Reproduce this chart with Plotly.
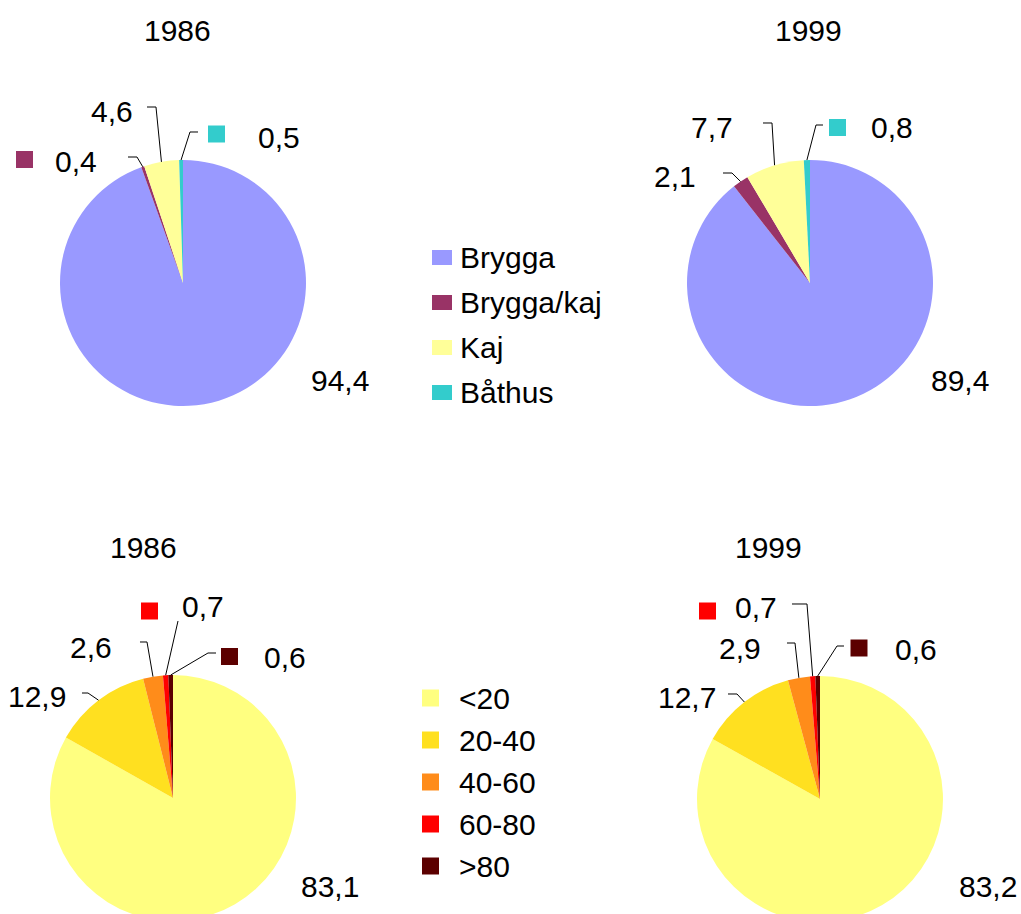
import math
import plotly.graph_objects as go

# ---------------- data ----------------
type_labels = ["Brygga", "Brygga/kaj", "Kaj", "Båthus"]
type_1986 = [94.4, 0.4, 4.6, 0.5]
type_1999 = [89.4, 2.1, 7.7, 0.8]

age_labels = ["<20", "20-40", "40-60", "60-80", ">80"]
age_1986 = [83.1, 12.9, 2.6, 0.7, 0.6]
age_1999 = [83.2, 12.7, 2.9, 0.7, 0.6]

years = ["1986", "1999"]

# ---------------- style ----------------
type_colors = ["#9999FF", "#993366", "#FFFF99", "#33CCCC"]
age_colors = ["#FFFF80", "#FFE020", "#FF8C1A", "#FF0000", "#5C0000"]

W, H = 1021, 925
FONT = dict(family="Liberation Sans, Arial, sans-serif", size=30, color="#000000")


def px(x):
    return x / W


def py(y):
    return 1 - y / H


# label placement (pixels): text centre, optional key square centre, leader elbow points
panels = [
    dict(labels=type_labels, values=type_1986, colors=type_colors, title=years[0],
         cx=183, cy=283, r=123, tpos=(177, 30),
         place=[
             dict(text=(340, 380)),
             dict(text=(76, 161), key=(24.5, 159.5), lead=[(128, 157), (137, 157)]),
             dict(text=(112, 112), lead=[(147, 107), (156, 107)]),
             dict(text=(279, 137), key=(216.5, 134), lead=[(198, 132), (190, 132)]),
         ]),
    dict(labels=type_labels, values=type_1999, colors=type_colors, title=years[1],
         cx=810, cy=283, r=123, tpos=(808, 30),
         place=[
             dict(text=(960, 380)),
             dict(text=(675, 176), lead=[(723, 173), (732, 173)]),
             dict(text=(712, 127), lead=[(763, 123), (772, 123)]),
             dict(text=(892, 127), key=(837.5, 127.5), lead=[(823, 125), (816, 125)]),
         ]),
    dict(labels=age_labels, values=age_1986, colors=age_colors, title=years[0],
         cx=173, cy=798, r=123, tpos=(143, 547),
         place=[
             dict(text=(330, 886)),
             dict(text=(37, 696), lead=[(82, 693), (88, 693)]),
             dict(text=(91, 647), lead=[(140, 642), (147, 642)]),
             dict(text=(203, 606), key=(149.5, 611), lead=[(178, 621)]),
             dict(text=(285, 657), key=(229.5, 656.5), lead=[(216, 653), (208, 653)]),
         ]),
    dict(labels=age_labels, values=age_1999, colors=age_colors, title=years[1],
         cx=820, cy=799, r=123, tpos=(768, 547),
         place=[
             dict(text=(988, 886)),
             dict(text=(687, 697), lead=[(728, 694), (737, 694)]),
             dict(text=(740, 648), lead=[(787, 643), (795, 643)]),
             dict(text=(756, 607), key=(707.5, 611), lead=[(792, 604), (807, 604)]),
             dict(text=(916, 649), key=(859, 648), lead=[(844, 646), (837, 646)]),
         ]),
]

legends = [
    dict(labels=type_labels, colors=type_colors, keyx=442, keyw=20, keyh=15,
         textx=458, rows=[257.5, 302.5, 347.5, 392.5]),
    dict(labels=age_labels, colors=age_colors, keyx=430.5, keyw=17, keyh=17,
         textx=457, rows=[698, 740, 782, 824, 866]),
]

fig = go.Figure()
annotations = []
shapes = []


def rect(cx, cy, w, h, color):
    return dict(type="rect", xref="paper", yref="paper",
                x0=px(cx - w / 2), x1=px(cx + w / 2),
                y0=py(cy + h / 2), y1=py(cy - h / 2),
                fillcolor=color, line=dict(width=0))


for p in panels:
    cx, cy, r = p["cx"], p["cy"], p["r"]
    fig.add_trace(go.Pie(
        labels=p["labels"], values=p["values"],
        marker=dict(colors=p["colors"], line=dict(width=0)),
        sort=False, direction="clockwise", rotation=0,
        textinfo="none", hoverinfo="label+value", showlegend=False,
        domain=dict(x=[px(cx - r), px(cx + r)], y=[py(cy + r), py(cy - r)]),
    ))
    annotations.append(dict(text=p["title"], x=px(p["tpos"][0]), y=py(p["tpos"][1]),
                            xref="paper", yref="paper", showarrow=False,
                            xanchor="center", yanchor="middle", font=FONT))
    total = sum(p["values"])
    cum = 0.0
    for v, col, pl in zip(p["values"], p["colors"], p["place"]):
        mid = (cum + v / 2) / total
        cum += v
        ang = 2 * math.pi * mid
        ex, ey = cx + r * math.sin(ang), cy - r * math.cos(ang)
        tx, ty = pl["text"]
        annotations.append(dict(text=f"{v:.1f}".replace(".", ","), x=px(tx), y=py(ty),
                                xref="paper", yref="paper", showarrow=False,
                                xanchor="center", yanchor="middle", font=FONT))
        if "key" in pl:
            shapes.append(rect(pl["key"][0], pl["key"][1], 17, 17, col))
        if "lead" in pl:
            pts = pl["lead"] + [(ex, ey)]
            path = "M " + " L ".join(f"{px(a):.5f},{py(b):.5f}" for a, b in pts)
            shapes.append(dict(type="path", xref="paper", yref="paper", path=path,
                               line=dict(color="#000000", width=1)))

for lg in legends:
    for lab, col, ry in zip(lg["labels"], lg["colors"], lg["rows"]):
        shapes.append(rect(lg["keyx"], ry, lg["keyw"], lg["keyh"], col))
        annotations.append(dict(text=lab, x=px(lg["textx"]), y=py(ry),
                                xref="paper", yref="paper", showarrow=False,
                                xanchor="left", yanchor="middle", font=FONT))

fig.update_layout(
    width=W, height=H,
    margin=dict(l=0, r=0, t=0, b=0),
    paper_bgcolor="#FFFFFF", plot_bgcolor="#FFFFFF",
    showlegend=False,
    annotations=annotations,
    shapes=shapes,
    font=FONT,
)

fig.write_html(
    "out.html",
    config={"displayModeBar": False},
    post_script="document.body.style.margin='0';document.body.style.overflow='hidden';"
                "document.documentElement.style.overflow='hidden';",
)
